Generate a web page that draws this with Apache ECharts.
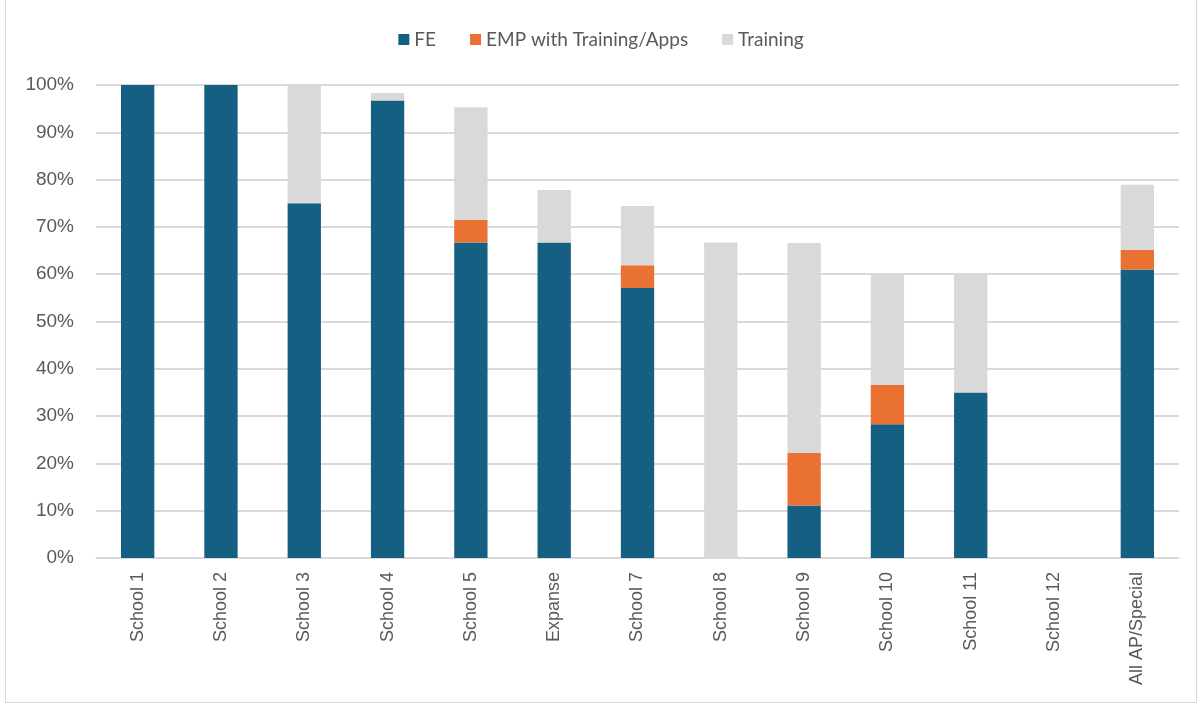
<!DOCTYPE html>
<html>
<head>
<meta charset="utf-8">
<script src="https://cdn.jsdelivr.net/npm/echarts@6/dist/echarts.min.js"></script>
<style>
	html, body { margin: 0; padding: 0; background: #fff; }
	.chart { position: absolute; left: 5px; top: 0; width: 1192px; height: 703px; border: 1px solid #d9d9d9; border-top: none; box-sizing: border-box; }
</style>
</head>
<body>
<div class="chart"></div>
<script>
// 数据
var categories = ['School 1', 'School 2', 'School 3', 'School 4', 'School 5', 'Expanse', 'School 7', 'School 8', 'School 9', 'School 10', 'School 11', 'School 12', 'All AP/Special'];
var feData = [100, 100, 75, 96.7, 66.7, 66.7, 57.1, 0, 11.1, 28.3, 35, 0, 61];
var empData = [0, 0, 0, 0, 4.8, 0, 4.8, 0, 11.1, 8.3, 0, 0, 4.1];
var trainingData = [0, 0, 25, 1.6, 23.8, 11.1, 12.5, 66.7, 44.4, 23.4, 25, 0, 13.8];
var yTicks = [0, 10, 20, 30, 40, 50, 60, 70, 80, 90, 100];

(function() {
	var myChart = echarts.init(document.querySelector('.chart'));
	var option = {
		animation: false,
		color: ['#156082', '#e97132', '#d9d9d9'],
		legend: {
			top: 25,
			left: 'center',
			itemWidth: 11,
			itemHeight: 11,
			itemGap: 34,
			icon: 'rect',
			textStyle: {
				color: '#595959',
				fontSize: 19,
				fontFamily: 'Lato'
			},
			data: ['FE', 'EMP with Training/Apps', 'Training']
		},
		grid: {
			left: 90,
			right: 17,
			top: 85,
			bottom: 144
		},
		xAxis: {
			type: 'category',
			data: categories,
			axisTick: { show: false },
			axisLine: { lineStyle: { color: '#d9d9d9', width: 1 } },
			axisLabel: {
				interval: 0,
				rotate: 90,
				margin: 14,
				color: '#595959',
				fontSize: 18,
				fontFamily: 'Liberation Sans'
			}
		},
		yAxis: {
			type: 'value',
			min: yTicks[0],
			max: yTicks[yTicks.length - 1],
			interval: 10,
			axisLine: { show: false },
			axisTick: { show: false },
			axisLabel: {
				color: '#595959',
				fontSize: 19,
				fontFamily: 'Liberation Sans',
				margin: 22,
				formatter: '{value}%'
			},
			splitLine: { lineStyle: { color: '#d9d9d9', width: 2 } }
		},
		series: [{
				name: 'FE',
				type: 'bar',
				stack: 'total',
				barWidth: '40%',
				data: feData
			},
			{
				name: 'EMP with Training/Apps',
				type: 'bar',
				stack: 'total',
				data: empData
			},
			{
				name: 'Training',
				type: 'bar',
				stack: 'total',
				data: trainingData
			}
		]
	};
	myChart.setOption(option);
	window.addEventListener('resize', function() {
		myChart.resize();
	});
})();
</script>
</body>
</html>
